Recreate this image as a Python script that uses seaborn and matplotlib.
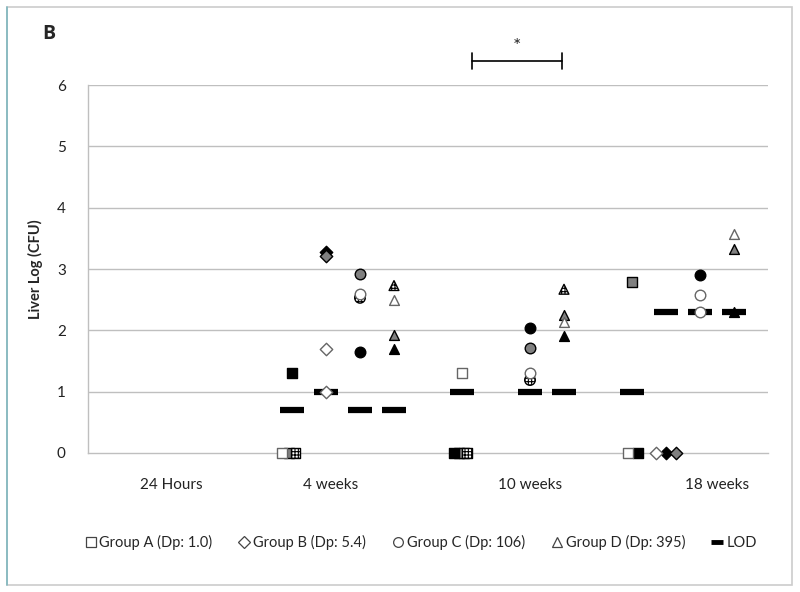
import numpy as np
import pandas as pd
import seaborn as sns
import matplotlib.pyplot as plt
from matplotlib.lines import Line2D
from matplotlib.patches import Rectangle

# time points and groups
times = ["24 Hours", "4 weeks", "10 weeks", "18 weeks"]
tick_pos = [0.49, 1.43, 2.6, 3.7]
groups = ["A", "B", "C", "D"]
legend_labels = ["Group A (Dp: 1.0)", "Group B (Dp: 5.4)", "Group C (Dp: 106)", "Group D (Dp: 395)"]
group_markers = {"A": "s", "B": "D", "C": "o", "D": "^"}

# individual animals: time index, group, log CFU, fill style, small x shift
pt_time = [1, 1, 1, 1,  1, 1, 1, 1,  1, 1, 1, 1,  1, 1, 1, 1,
           2, 2, 2, 2, 2,  2, 2, 2, 2,  2, 2, 2, 2,
           3, 3, 3,  3, 3, 3,  3, 3, 3,  3, 3, 3]
pt_group = ["A", "A", "A", "A",  "B", "B", "B", "B",  "C", "C", "C", "C",  "D", "D", "D", "D",
            "A", "A", "A", "A", "A",  "C", "C", "C", "C",  "D", "D", "D", "D",
            "A", "A", "A",  "B", "B", "B",  "C", "C", "C",  "D", "D", "D"]
pt_value = [0.0, 0.0, 0.0, 1.3,  3.28, 3.22, 1.7, 1.0,  2.92, 2.6, 2.53, 1.65,  2.73, 2.5, 1.93, 1.7,
            1.3, 0.0, 0.0, 0.0, 0.0,  2.04, 1.71, 1.3, 1.19,  2.67, 2.25, 2.14, 1.91,
            2.79, 0.0, 0.0,  0.0, 0.0, 0.0,  2.9, 2.58, 2.3,  3.57, 3.33, 2.3]
pt_fill = ["open", "grey", "hatch", "black",  "black", "grey", "open", "open",  "grey", "open", "hatch", "black",
           "hatch", "open", "grey", "black",
           "open", "black", "black", "grey", "hatch",  "black", "grey", "open", "hatch",
           "hatch", "grey", "open", "black",
           "grey", "open", "black",  "open", "black", "grey",  "black", "open", "open",  "open", "grey", "black"]
pt_shift = [-0.06, -0.02, 0.02, 0.0,  0.0, 0.0, 0.0, 0.0,  0.0, 0.0, 0.0, 0.0,  0.0, 0.0, 0.0, 0.0,
            0.0, -0.05, -0.02, 0.01, 0.03,  0.0, 0.0, 0.0, 0.0,  0.0, 0.0, 0.0, 0.0,
            0.0, -0.025, 0.035,  -0.06, 0.0, 0.06,  0.0, 0.0, 0.0,  0.0, 0.0, 0.0]

# limit of detection per time point / group
lod_time = [1, 1, 1, 1,  2, 2, 2,  3, 3, 3, 3]
lod_group = ["A", "B", "C", "D",  "A", "C", "D",  "A", "B", "C", "D"]
lod_value = [0.7, 1.0, 0.7, 0.7,  1.0, 1.0, 1.0,  1.0, 2.3, 2.3, 2.3]

GROUP_STEP = 0.2
fills = {"open": "white", "grey": "#808080", "black": "black", "hatch": "white"}
sizes = {"A": 44, "B": 40, "C": 58, "D": 50}

df = pd.DataFrame({"time": pt_time, "group": pt_group, "value": pt_value,
                   "fill": pt_fill, "shift": pt_shift})
df["x"] = df["time"] + GROUP_STEP * (df["group"].map(groups.index) + 1) + df["shift"]
lod = pd.DataFrame({"time": lod_time, "group": lod_group, "value": lod_value})
lod["x"] = lod["time"] + GROUP_STEP * (lod["group"].map(groups.index) + 1)

sns.set_style("white")
plt.rcParams["font.family"] = ["Lato", "DejaVu Sans"]
plt.rcParams["hatch.linewidth"] = 0.8

fig = plt.figure(figsize=(8, 5.92), dpi=100)
ax = fig.add_axes([0.11, 0.2348, 0.85, 0.6216])

for y in range(1, 7):
    ax.axhline(y, color="#bfbfbf", lw=1, zorder=0)

# LOD dashes
sns.scatterplot(data=lod, x="x", y="value", marker="_", s=300, color="black",
                linewidth=4.5, ax=ax, zorder=3)

for (g, f), sub in df.groupby(["group", "fill"]):
    ec = "#666666" if f == "open" else "black"
    sns.scatterplot(data=sub, x="x", y="value", marker=group_markers[g], s=sizes[g],
                    color=fills[f], edgecolor=ec, linewidth=1.0,
                    hatch="+++++" if f == "hatch" else None, ax=ax, zorder=4,
                    clip_on=False)

ax.set_xlim(0, 4)
ax.set_ylim(0, 6)
ax.set_xticks(tick_pos)
ax.set_xticklabels(times, fontsize=11, color="#222222")
ax.set_yticks(range(0, 7))
ax.set_yticklabels([str(v) for v in range(0, 7)], fontsize=11, color="#222222")
ax.tick_params(axis="x", length=0, pad=18)
ax.tick_params(axis="y", length=0, pad=16)
ax.set_xlabel("")
ax.set_ylabel("Liver Log (CFU)", fontsize=10.5, fontweight="bold", labelpad=10)
for side in ["top", "right"]:
    ax.spines[side].set_visible(False)
for side in ["left", "bottom"]:
    ax.spines[side].set_color("#bfbfbf")
    ax.spines[side].set_linewidth(1)

# significance bracket between 4 and 10 weeks
bx0, bx1, by = 2.259, 2.788, 6.39
ax.plot([bx0, bx1], [by, by], color="black", lw=1.2, clip_on=False)
ax.plot([bx0, bx0], [by - 0.13, by + 0.13], color="black", lw=1.2, clip_on=False)
ax.plot([bx1, bx1], [by - 0.13, by + 0.13], color="black", lw=1.2, clip_on=False)
ax.text((bx0 + bx1) / 2, by + 0.1, "*", ha="center", va="bottom", fontsize=14)

fig.text(0.053, 0.942, "B", fontsize=14, fontweight="bold", va="center",
         family=["Open Sans", "DejaVu Sans"])

handles = [Line2D([], [], ls="none", marker=group_markers[g], markersize=7 if g != "B" else 6,
                  markerfacecolor="white", markeredgecolor="#444444", markeredgewidth=0.9)
           for g in groups]
handles.append(Line2D([], [], ls="none", marker="_", markersize=9, markeredgewidth=3.5,
                      color="black"))
fig.legend(handles, legend_labels + ["LOD"], loc="center", bbox_to_anchor=(0.525, 0.083),
           ncol=5, frameon=False, fontsize=10.5, handletextpad=0.1, columnspacing=1.7,
           handlelength=1.0)

# chart frame
fig.patches.append(Rectangle((7 / 800, 7 / 592), 785 / 800, 578 / 592, transform=fig.transFigure,
                             fill=False, edgecolor="#cccccc", lw=1.2))
fig.add_artist(Line2D([7 / 800, 7 / 800], [7 / 592, 585 / 592], transform=fig.transFigure,
                      color="#7fb8bf", lw=1.2))

fig.savefig("out.png", dpi=100)
